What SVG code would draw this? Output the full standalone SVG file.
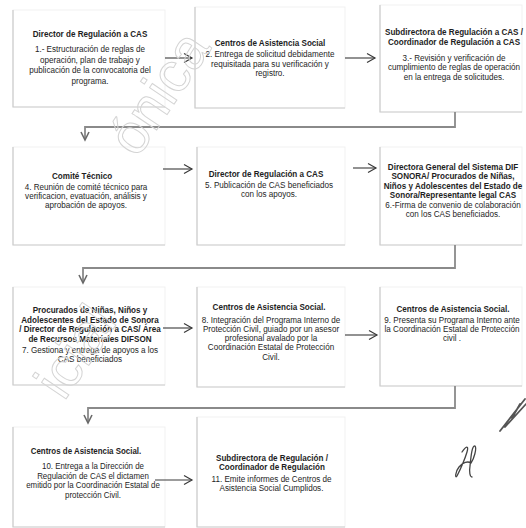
<svg xmlns="http://www.w3.org/2000/svg" width="526" height="528" viewBox="0 0 526 528">
<defs>
<style>
.box{fill:#fff;stroke:#f1f1f1;stroke-width:1}
.edge{fill:none;stroke:#cccccc;stroke-width:1.2}
.t{font-family:"Liberation Sans",Arial,sans-serif;font-size:9px;fill:#1e1e1e;text-anchor:middle}
.b{font-weight:bold}
.arr{fill:none;stroke:#3a3a3a;stroke-width:1.1}
.con{fill:none;stroke:#8a8a8a;stroke-width:1.8}
.wm{font-family:"Liberation Sans",Arial,sans-serif;font-size:56px;fill:none;stroke:#d4d4d4;stroke-width:1;text-anchor:end}
</style>
<marker id="ah" markerUnits="userSpaceOnUse" markerWidth="12" markerHeight="12" viewBox="-10 -6 12 12" refX="0" refY="0" orient="auto">
<path d="M-8,-4.5 L0,0 L-8,4.5" fill="none" stroke="#3a3a3a" stroke-width="1.2"/>
</marker>
<marker id="ahd" markerUnits="userSpaceOnUse" markerWidth="12" markerHeight="12" viewBox="-10 -6 12 12" refX="0" refY="0" orient="auto">
<path d="M-8,-4 L0,0 L-8,4" fill="none" stroke="#6a6a6a" stroke-width="1.6"/>
</marker>
</defs>
<rect width="526" height="528" fill="#fff"/>

<g id="n1">
<rect class="box" x="13" y="10" width="152" height="97"/>
<path class="edge" d="M13,10 V107 H165"/>
<g transform="translate(90,0) scale(0.9,1)">
<text class="t b" x="0" y="37">Director de Regulación a CAS</text>
<text class="t" x="0" y="52.5">1.- Estructuración de reglas de</text>
<text class="t" x="0" y="63">operación,  plan de trabajo y</text>
<text class="t" x="0" y="73.5">publicación de la convocatoria del</text>
<text class="t" x="0" y="84">programa.</text>
</g>
</g>

<g id="n2">
<rect class="box" x="195" y="7" width="150" height="101"/>
<path class="edge" d="M195,7 V108 H345"/>
<g transform="translate(270,0) scale(0.9,1)">
<text class="t b" x="0" y="46">Centros de Asistencia Social</text>
<text class="t" x="0" y="57.5">2. Entrega de solicitud debidamente</text>
<text class="t" x="0" y="67">requisitada para su verificación y</text>
<text class="t" x="0" y="76.5">registro.</text>
</g>
</g>

<g id="n3">
<rect class="box" x="380" y="5" width="142" height="107"/>
<path class="edge" d="M380,5 V112 H522"/>
<g transform="translate(454,0) scale(0.9,1)">
<text class="t b" x="0" y="35.5">Subdirectora de Regulación a CAS /</text>
<text class="t b" x="0" y="45.5">Coordinador de Regulación a CAS</text>
<text class="t" x="0" y="61">3.-  Revisión y verificación de</text>
<text class="t" x="0" y="70.5">cumplimiento de reglas de operación</text>
<text class="t" x="0" y="80">en la entrega de solicitudes.</text>
</g>
</g>

<g id="n4">
<rect class="box" x="13" y="147" width="152" height="98"/>
<path class="edge" d="M13,147 V245 H165"/>
<g transform="translate(86,0) scale(0.9,1)">
<text class="t b" x="-4.4" y="179">Comité Técnico</text>
<text class="t" x="0" y="190">4. Reunión de comité técnico para</text>
<text class="t" x="0" y="199">verificacion, evatuación,  análisis y</text>
<text class="t" x="0" y="208">aprobación de apoyos.</text>
</g>
</g>

<g id="n5">
<rect class="box" x="197" y="147" width="148" height="98"/>
<path class="edge" d="M197,147 V245 H345"/>
<g transform="translate(269,0) scale(0.9,1)">
<text class="t b" x="-3.3" y="177.5">Director de Regulación a CAS</text>
<text class="t" x="0" y="188.5">5. Publicación de CAS beneficiados</text>
<text class="t" x="0" y="197.5">con los  apoyos.</text>
</g>
</g>

<g id="n6">
<rect class="box" x="380" y="147" width="142" height="98"/>
<path class="edge" d="M380,147 V245 H522"/>
<g transform="translate(453,0) scale(0.9,1)">
<text class="t b" x="0" y="170">Directora General del Sistema DIF</text>
<text class="t b" x="0" y="179.5">SONORA/ Procurados de Niñas,</text>
<text class="t b" x="0" y="189">Niños y Adolescentes del Estado de</text>
<text class="t b" x="0" y="198.5">Sonora/Representante legal CAS</text>
<text class="t" x="0" y="208">6.-Firma de convenio de colaboración</text>
<text class="t" x="0" y="217">con los CAS beneficiados.</text>
</g>
</g>

<g id="n7">
<rect class="box" x="13" y="287" width="152" height="98"/>
<path class="edge" d="M13,287 V385 H165"/>
<g transform="translate(90,0) scale(0.9,1)">
<text class="t b" x="0" y="313.5">Procurados de Niñas, Niños y</text>
<text class="t b" x="0" y="323">Adolescentes del Estado de Sonora</text>
<text class="t b" x="0" y="332.5">/ Director de Regulación a CAS/ Área</text>
<text class="t b" x="0" y="342">de Recursos Materiales DIFSON</text>
<text class="t" x="0" y="353.5">7. Gestiona y entrega de apoyos a los</text>
<text class="t" x="0" y="362.5">CAS beneficiados</text>
</g>
</g>

<g id="n8">
<rect class="box" x="197" y="287" width="148" height="100"/>
<path class="edge" d="M197,287 V387 H345"/>
<g transform="translate(271,0) scale(0.9,1)">
<text class="t b" x="-2.2" y="310.5">Centros de Asistencia Social.</text>
<text class="t" x="0" y="323.5">8. Integración del Programa Interno de</text>
<text class="t" x="0" y="332.5">Protección Civil, guiado por un asesor</text>
<text class="t" x="0" y="341.5">profesional avalado por la</text>
<text class="t" x="0" y="350.5">Coordinación Estatal de Protección</text>
<text class="t" x="0" y="360">Civil.</text>
</g>
</g>

<g id="n9">
<rect class="box" x="380" y="287" width="142" height="99"/>
<path class="edge" d="M380,287 V386 H522"/>
<g transform="translate(452,0) scale(0.9,1)">
<text class="t b" x="1.1" y="312.5">Centros de Asistencia Social.</text>
<text class="t" x="0" y="323.5">9. Presenta su Programa Interno ante</text>
<text class="t" x="0" y="332.5">la Coordinación Estatal de Protección</text>
<text class="t" x="0" y="341.5">civil .</text>
</g>
</g>

<g id="n10">
<rect class="box" x="13" y="427" width="152" height="100"/>
<path class="edge" d="M13,427 V527 H165"/>
<g transform="translate(93,0) scale(0.88,1)">
<text class="t b" x="-8" y="454.5">Centros de Asistencia Social.</text>
<text class="t" x="0" y="469.5">10. Entrega a la Dirección de</text>
<text class="t" x="0" y="479">Regulación de CAS el dictamen</text>
<text class="t" x="0" y="488.5">emitido por la Coordinación Estatal de</text>
<text class="t" x="0" y="498">protección Civil.</text>
</g>
</g>

<g id="n11">
<rect class="box" x="197" y="417" width="148" height="110"/>
<path class="edge" d="M197,417 V527 H345"/>
<g transform="translate(271.5,0) scale(0.9,1)">
<text class="t b" x="0.5" y="461.5">Subdirectora de Regulación /</text>
<text class="t b" x="0.5" y="470.5">Coordinador de Regulación</text>
<text class="t" x="0" y="482.5">11. Emite informes de Centros de</text>
<text class="t" x="0" y="491.5">Asistencia Social Cumplidos.</text>
</g>
</g>

<g id="connectors">
<path class="arr" d="M165,58 H192" marker-end="url(#ah)"/>
<path class="arr" d="M345,58 H375" marker-end="url(#ah)"/>
<path class="con" d="M455,112 V127 H85 V140" marker-end="url(#ahd)"/>
<path class="arr" d="M163,169 H192" marker-end="url(#ah)"/>
<path class="arr" d="M353,168 H376" marker-end="url(#ah)"/>
<path class="con" d="M455,245 V268 H83 V283" marker-end="url(#ahd)"/>
<path class="arr" d="M163,328 H192" marker-end="url(#ah)"/>
<path class="arr" d="M345,335 H377" marker-end="url(#ah)"/>
<path class="con" d="M455,386 V408 H88 V423" marker-end="url(#ahd)"/>
<path class="arr" d="M155,480 H192" marker-end="url(#ah)"/>
</g>

<g id="watermark">
<text class="wm" transform="translate(212,48) rotate(-56)">ónica</text>
<text class="wm" transform="translate(118,322) rotate(-56)">icial</text>
</g>

<g id="marks" fill="none" stroke="#444" stroke-width="1.3" stroke-linecap="round">
<path d="M462,452 C466,446 469,445 467,452 C464,462 460,470 457,476 C455,479 455,472 459,467 C463,462 468,461 471,463 M471,463 C474,459 477,448 475,446 C472,445 471,456 470,466 C469,472 470,477 472,477"/>
<path d="M500,431 L525,399 M505,427 L526,404 M512,418 L520,404" stroke="#555" stroke-width="1.8"/>
</g>
</svg>
